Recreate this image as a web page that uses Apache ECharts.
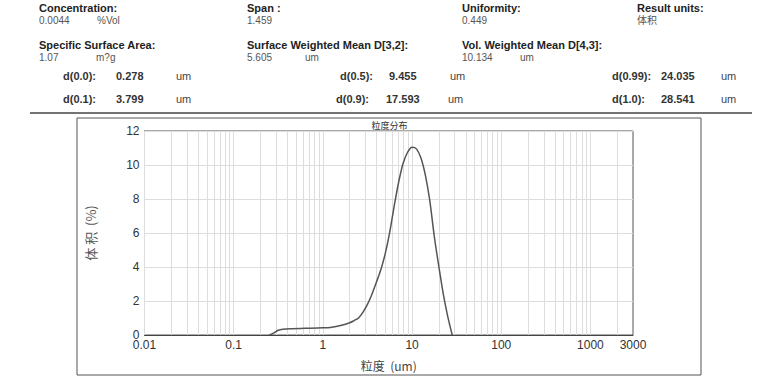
<!DOCTYPE html>
<html>
<head>
<meta charset="utf-8">
<script src="https://cdn.jsdelivr.net/npm/echarts@6/dist/echarts.min.js"></script>
<style>
  html, body { margin: 0; padding: 0; background: #fff; }
  #chart { width: 779px; height: 377px; }
</style>
</head>
<body>
<div id="chart"></div>
<script>
// 粒径 (um) 与 体积 (%)
const sizes = [0.251, 0.282, 0.316, 0.355, 0.447, 0.631, 1.0, 1.26, 1.58, 2.0, 2.24, 2.51, 2.82, 3.16, 3.55, 3.98, 4.47, 5.01,
  5.62, 6.31, 7.08, 7.94, 8.91, 10.0, 11.2, 12.6, 14.1, 15.8, 17.8, 20.0, 22.4, 25.1, 28.2];
const volume = [0, 0.13, 0.28, 0.34, 0.37, 0.39, 0.42, 0.46, 0.56, 0.72, 0.85, 1.0, 1.35, 1.8, 2.4, 3.1, 3.85, 4.8,
  6.05, 7.6, 9.0, 10.1, 10.75, 11.05, 10.95, 10.4, 9.4, 7.9, 5.75, 4.0, 2.4, 1.1, 0];
const xLabels = [0.01, 0.1, 1, 10, 100, 1000, 3000];
const yTicks = [0, 2, 4, 6, 8, 10, 12];

// 表头数据
const headLabels = ['Concentration:', 'Span :', 'Uniformity:', 'Result units:',
  'Specific Surface Area:', 'Surface Weighted Mean D[3,2]:', 'Vol. Weighted Mean D[4,3]:'];
const headValues = ['0.0044', '1.459', '0.449', '体积', '1.07', '5.605', '10.134'];
const headUnits = ['%Vol', '', '', '', 'm?g', 'um', 'um'];
const dNames = ['d(0.0):', 'd(0.1):', 'd(0.5):', 'd(0.9):', 'd(0.99):', 'd(1.0):'];
const dValues = ['0.278', '3.799', '9.455', '17.593', '24.035', '28.541'];

// 次网格线 2..9 每个十倍程
const minorLines = [];
[0.01, 0.1, 1, 10, 100, 1000].forEach(function (d) {
  for (let k = 1; k <= 9; k++) {
    if (d * k < 3000) minorLines.push({ xAxis: +(d * k).toPrecision(3) });
  }
});

const chart = echarts.init(document.getElementById('chart'), null, { renderer: 'svg' });

const headCols = [39, 247, 462, 637, 39, 247, 462];
const headRows = [8, 8, 8, 8, 45, 45, 45];
const unitOffs = [58, 0, 0, 0, 57, 58, 58];
const dCols = [[63, 116, 176], [63, 116, 176], [340, 389, 450], [336, 386, 448], [612, 661, 721], [612, 661, 721]];
const dRows = [76, 99, 76, 99, 76, 99];

const graphics = [];
headLabels.forEach(function (t, i) {
  graphics.push({ type: 'text', x: headCols[i], y: headRows[i],
    style: { text: t, font: 'bold 11px "Liberation Sans", Arial', fill: '#222', textVerticalAlign: 'middle' } });
  graphics.push({ type: 'text', x: headCols[i], y: headRows[i] + 12,
    style: { text: headValues[i], font: '10px "Liberation Sans", "Noto Sans CJK SC"', fill: '#555', textVerticalAlign: 'middle' } });
  if (headUnits[i]) {
    graphics.push({ type: 'text', x: headCols[i] + unitOffs[i], y: headRows[i] + 12,
      style: { text: headUnits[i], font: '10px "Liberation Sans"', fill: '#555', textVerticalAlign: 'middle' } });
  }
});
dNames.forEach(function (t, i) {
  const c = dCols[i];
  graphics.push({ type: 'text', x: c[0], y: dRows[i],
    style: { text: t, font: 'bold 11px "Liberation Sans"', fill: '#333', textVerticalAlign: 'middle' } });
  graphics.push({ type: 'text', x: c[1], y: dRows[i],
    style: { text: dValues[i], font: 'bold 11px "Liberation Sans"', fill: '#333', textVerticalAlign: 'middle' } });
  graphics.push({ type: 'text', x: c[2], y: dRows[i],
    style: { text: 'um', font: '11px "Liberation Sans"', fill: '#444', textVerticalAlign: 'middle' } });
});
graphics.push({ type: 'line', shape: { x1: 30, y1: 113, x2: 752, y2: 113 },
  style: { stroke: '#444', lineWidth: 1.5 } });
graphics.push({ type: 'rect', shape: { x: 77, y: 118, width: 624, height: 257 },
  style: { stroke: '#555', fill: 'none', lineWidth: 1 } });

function fmt(v) { return String(+(+v).toPrecision(6)); }

const option = {
  backgroundColor: '#fff',
  animation: false,
  title: {
    text: '粒度分布', left: 'center', top: 121, padding: 0,
    textStyle: { fontSize: 9, fontWeight: 'normal', color: '#333', fontFamily: '"Noto Sans CJK SC"' }
  },
  graphic: graphics,
  grid: { left: 144.5, right: 146, top: 131, bottom: 42, show: true, borderColor: '#555', borderWidth: 1 },
  xAxis: {
    type: 'log', logBase: 10, min: 0.01, max: 3000,
    name: '粒度  (um)', nameLocation: 'middle', nameGap: 24,
    nameTextStyle: { fontSize: 12, color: '#444', fontFamily: '"Noto Sans CJK SC"' },
    axisLine: { lineStyle: { color: '#444' } },
    axisTick: { show: false },
    splitLine: { show: false },
    axisLabel: { customValues: xLabels, formatter: fmt, color: '#333', fontSize: 12, margin: 4,
      fontFamily: '"Liberation Sans", Arial' }
  },
  yAxis: {
    type: 'value', min: 0, max: 12, interval: 2,
    name: '体 积  (%)', nameLocation: 'middle', nameGap: 48, nameRotate: 90,
    nameTextStyle: { fontSize: 13, color: '#555', fontFamily: '"Noto Sans CJK SC"' },
    axisLine: { show: true, lineStyle: { color: '#444' } },
    axisTick: { show: false },
    splitLine: { lineStyle: { color: '#ddd' } },
    axisLabel: { customValues: yTicks, color: '#333', fontSize: 12, margin: 5, fontFamily: '"Liberation Sans", Arial' }
  },
  series: [{
    type: 'line',
    data: sizes.map(function (s, i) { return [s, volume[i]]; }),
    smooth: 0.3,
    symbol: 'none',
    lineStyle: { color: '#555', width: 1.5 },
    z: 5,
    markLine: {
      silent: true, symbol: 'none', animation: false,
      label: { show: false },
      lineStyle: { color: '#ddd', width: 1, type: 'solid' },
      data: minorLines
    }
  }]
};

chart.setOption(option);
</script>
</body>
</html>
